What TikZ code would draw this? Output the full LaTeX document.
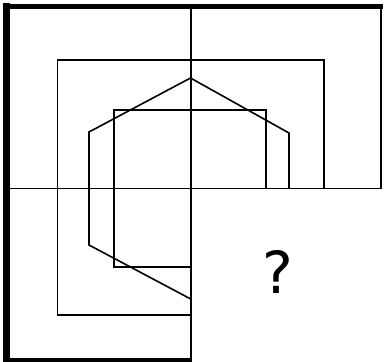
\documentclass[tikz,border=0pt]{standalone}
\usepackage{fontspec}
\newfontfamily\qfont{DejaVu Sans}
\begin{document}
\begin{tikzpicture}[x=1pt,y=-1pt,
  thin line/.style={line width=1.6pt,black,line join=miter},
  frame line/.style={black}]
\useasboundingbox (0,0) rectangle (384,362);
\fill[white] (0,0) rectangle (384,362);
% outer frame
\draw[frame line,line width=6.5pt] (6.5,3.3) -- (6.5,362);
\draw[frame line,line width=5pt] (3.3,6.5) -- (383,6.5);
\draw[frame line,line width=4pt] (3.3,360) -- (192,360);
\draw[frame line,line width=2pt] (381,4) -- (381,188.5);
% cross
\draw[thin line] (190.7,4) -- (190.7,362);
\draw[thin line] (4,188.5) -- (382,188.5);
% big square
\draw[thin line] (324,188.5) -- (324,60) -- (57.5,60) -- (57.5,315) -- (190.7,315);
% small square
\draw[thin line] (266,188.5) -- (266,110) -- (114,110) -- (114,267) -- (190.7,267);
% hexagon
\draw[thin line] (289,188.5) -- (289,133) -- (190.5,78) -- (89,132) -- (89,245) -- (190.7,299);
% question mark
\node[inner sep=0pt,font=\qfont\fontsize{58}{58}\selectfont] (q) at (277.5,272) {?};
\end{tikzpicture}
\end{document}
